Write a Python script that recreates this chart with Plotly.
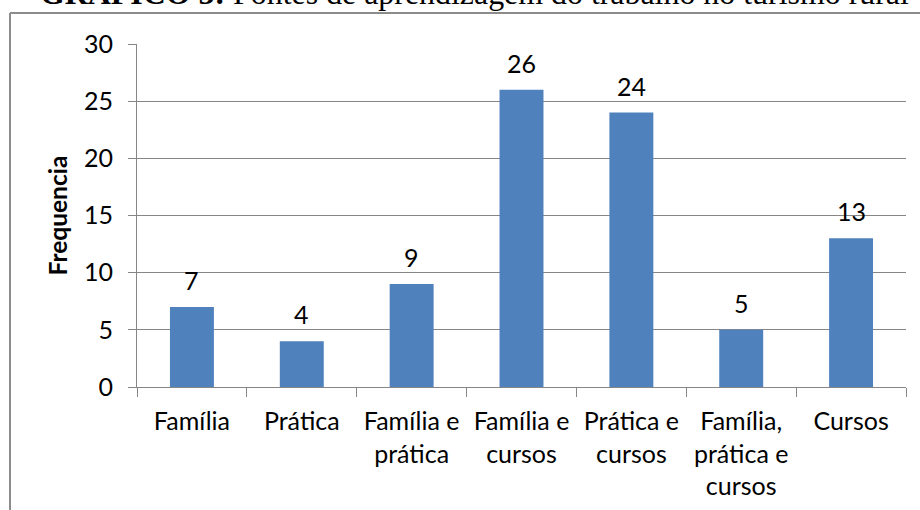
import plotly.graph_objects as go

categories = ["Família", "Prática", "Família e<br>prática", "Família e<br>cursos",
              "Prática e<br>cursos", "Família,<br>prática e<br>cursos", "Cursos"]
values = [7, 4, 9, 26, 24, 5, 13]
y_ticks = [0, 5, 10, 15, 20, 25, 30]
title_bold = "GRÁFICO 5:"
title_rest = " Fontes de aprendizagem do trabalho no turismo rural"
y_title = "Frequencia"

W, H = 920, 510
L, R, T, B = 137, 14, 44, 123
pw, ph = W - L - R, H - T - B

def px_x(px):
    return (px - L) / pw

def px_y(py):
    return (H - B - py) / ph

GRAY = "#868686"
FONT = "Lato"
FS = 25

fig = go.Figure()
fig.add_trace(go.Bar(x=categories, y=values, marker=dict(color="#4F81BD", line=dict(width=0)),
                     width=0.4, hoverinfo="skip"))

for c, v in zip(categories, values):
    fig.add_annotation(x=c, y=v, text=str(v), showarrow=False, yanchor="middle",
                       yshift=27, font=dict(family=FONT, size=FS, color="#000000"))

# cut-off document title above the chart frame
fig.add_annotation(xref="paper", yref="paper", x=px_x(38), y=px_y(6), xanchor="left",
                   yanchor="bottom", yshift=-7,
                   text=f"<b>{title_bold}</b>{title_rest}", showarrow=False,
                   font=dict(family="Liberation Serif", size=31.9, color="#000000"))

# chart frame (top and left edges)
fig.add_shape(type="line", xref="paper", yref="paper", x0=px_x(10), x1=px_x(W + 5),
              y0=px_y(13), y1=px_y(13), line=dict(color="#8c8c8c", width=2))
fig.add_shape(type="line", xref="paper", yref="paper", x0=px_x(10), x1=px_x(10),
              y0=px_y(13), y1=px_y(H + 5), line=dict(color="#8c8c8c", width=2))

fig.update_layout(
    width=W, height=H,
    margin=dict(l=L, r=R, t=T, b=B, pad=0),
    paper_bgcolor="white", plot_bgcolor="white",
    showlegend=False,
    bargap=0.6,
    font=dict(family=FONT, size=FS, color="#000000"),
    xaxis=dict(
        type="category", showline=True, linecolor=GRAY, linewidth=1,
        ticks="outside", tickson="boundaries", ticklen=9, tickcolor=GRAY,
        showgrid=False, tickfont=dict(family=FONT, size=FS, color="#000000"),
        ticklabelstandoff=12, automargin=False,
    ),
    yaxis=dict(
        range=[0, 30], tickvals=y_ticks, showline=True, linecolor=GRAY, linewidth=1,
        ticks="outside", ticklen=8, tickcolor=GRAY,
        showgrid=True, gridcolor=GRAY, gridwidth=1, zeroline=False,
        tickfont=dict(family=FONT, size=FS, color="#000000"),
        ticklabelstandoff=10, automargin=False,
        title=dict(text=f"<b>{y_title}</b>", font=dict(family=FONT, size=24.5, color="#000000"),
                   standoff=9),
    ),
)

fig.write_html("out.html", config={"displayModeBar": False},
               post_script="document.body.style.margin='0';document.body.style.overflow='hidden';")
